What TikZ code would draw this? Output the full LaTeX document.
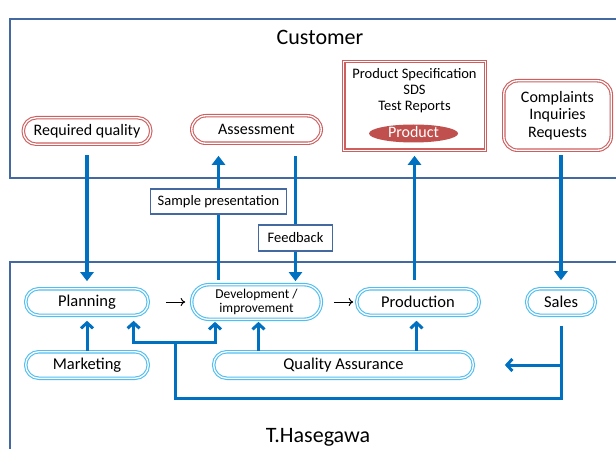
\documentclass[tikz,border=0pt]{standalone}
\usepackage{fontspec}
\setmainfont{Carlito}
\usetikzlibrary{arrows.meta,shapes.geometric,calc}
\definecolor{frameblue}{RGB}{68,104,160}
\definecolor{flowblue}{RGB}{0,112,192}
\definecolor{pillblue}{RGB}{80,190,240}
\definecolor{pillred}{RGB}{205,95,95}
\definecolor{prodred}{RGB}{192,80,77}

\begin{document}
\begin{tikzpicture}[x=1pt,y=-1pt,
  pill/.style={draw=pillblue, double=white, double distance=1.3pt, line width=1.1pt,
    rounded corners=13pt, minimum width=122.5pt, minimum height=26.5pt, inner sep=0pt,
    font=\fontsize{16.5}{17}\selectfont},
  redpill/.style={draw=pillred, double=white, double distance=1.3pt, line width=1.1pt,
    inner sep=0pt, font=\fontsize{16}{17.5}\selectfont},
  label box/.style={draw=frameblue, line width=1.4pt, fill=white, inner sep=0pt,
    font=\fontsize{14.5}{15}\selectfont},
  bigflow/.style={draw=flowblue, line width=3.6pt, -{Triangle[length=9pt,width=13pt]}},
  flow/.style={draw=flowblue, line width=3pt, -{Straight Barb[length=5.5pt,width=12pt]}},
  plainflow/.style={draw=flowblue, line width=3pt},
  step arrow/.style={-{To[length=4.5pt,width=8pt]}, line width=1pt, black},
  title/.style={font=\fontsize{22}{22}\selectfont},
]
\clip (0,0) rectangle (616,449);

% organisation frames
\draw[frameblue, line width=1.4pt] (10,19) rectangle (640,178);
\draw[frameblue, line width=1.4pt] (10,262) rectangle (640,480);
\node[title] (cust) at (320,37) {Customer};
\node[title] (hase) at (318,437) {T.Hasegawa};

% customer side
\node[redpill, rounded corners=13pt, minimum width=127.5pt, minimum height=26.5pt] (req) at (87,131) {Required quality};
\node[redpill, rounded corners=14pt, minimum width=129.5pt, minimum height=27.5pt] (assess) at (256.5,129.5) {Assessment};
\node[redpill, rectangle, minimum width=141.5pt, minimum height=88.5pt] (spec) at (414.5,106) {};
\node[align=center, font=\fontsize{14.5}{16}\selectfont] (spectext) at (414.5,91) {Product Specification\\SDS\\Test Reports};
\node[ellipse, fill=prodred, text=white, minimum width=89pt, minimum height=18pt, inner sep=0pt,
  text height=10pt, text depth=2.5pt, font=\fontsize{16}{16}\selectfont] (product) at (413.5,133.5) {Product};
\node[redpill, rounded corners=14pt, minimum width=107.5pt, minimum height=69.5pt, align=center] (compl) at (557.5,115.5) {Complaints\\Inquiries\\Requests};

% company side
\node[pill] (plan) at (87,302) {Planning};
\node[pill, minimum width=129.6pt, minimum height=34.6pt, rounded corners=17pt, align=center,
  font=\fontsize{13.5}{13.5}\selectfont] (dev) at (256.5,302) {Development /\\improvement};
\node[pill] (prod) at (418,302) {Production};
\node[pill, minimum width=68.6pt] (sales) at (561,302) {Sales};
\node[pill] (mkt) at (87,365) {Marketing};
\node[pill, minimum width=259.6pt] (qa) at (343.5,365) {Quality Assurance};

% exchanges with the customer
\draw[bigflow, shorten <=10pt, shorten >=7pt] (req.south) -- (plan.north);
\draw[bigflow, shorten <=4pt, shorten >=12pt] ([xshift=-38pt]dev.north) -- ([xshift=-38pt]assess.south);
\draw[bigflow, shorten <=12pt, shorten >=3pt] ([xshift=39pt]assess.south) -- ([xshift=39pt]dev.north);
\draw[bigflow, shorten <=8pt, shorten >=5pt] (prod.north -| spec.south) -- (spec.south);
\draw[bigflow, shorten <=4pt, shorten >=8pt] (compl.south -| sales.north) -- (sales.north);

\node[label box, minimum width=135.5pt, minimum height=25pt] (sample) at (218.5,201.5) {Sample presentation};
\node[label box, minimum width=74.5pt, minimum height=26pt] (fb) at (295.5,238) {Feedback};

% process sequence
\draw[step arrow] ([xshift=17pt]plan.east) -- ([xshift=-6pt]dev.west);
\draw[step arrow] ([xshift=12pt]dev.east) -- ([xshift=-3pt]prod.west);

% internal flows
\coordinate (fork) at (175.6,342.7);
\coordinate (salesdrop) at (561,398);
\draw[flow, shorten >=5pt] (mkt.north) -- (plan.south);
\draw[plainflow, {Straight Barb[length=5.5pt,width=12pt]}-{Straight Barb[length=5.5pt,width=12pt]},
  shorten <=5pt, shorten >=2pt] ([xshift=46.6pt]plan.south) |- (fork) -| ([xshift=-41.5pt]dev.south);
\draw[flow, shorten >=2pt] ([xshift=-85pt]qa.north) -- ([xshift=-85pt]qa.north |- dev.south);
\draw[flow, shorten >=5pt] ([xshift=73pt]qa.north) -- ([xshift=73pt]qa.north |- prod.south);
\draw[plainflow] ([yshift=-9.7pt]sales.south) -- (salesdrop) -| (fork);
\draw[flow, shorten >=31pt] (sales.south |- qa.east) -- (qa.east);
\end{tikzpicture}
\end{document}
